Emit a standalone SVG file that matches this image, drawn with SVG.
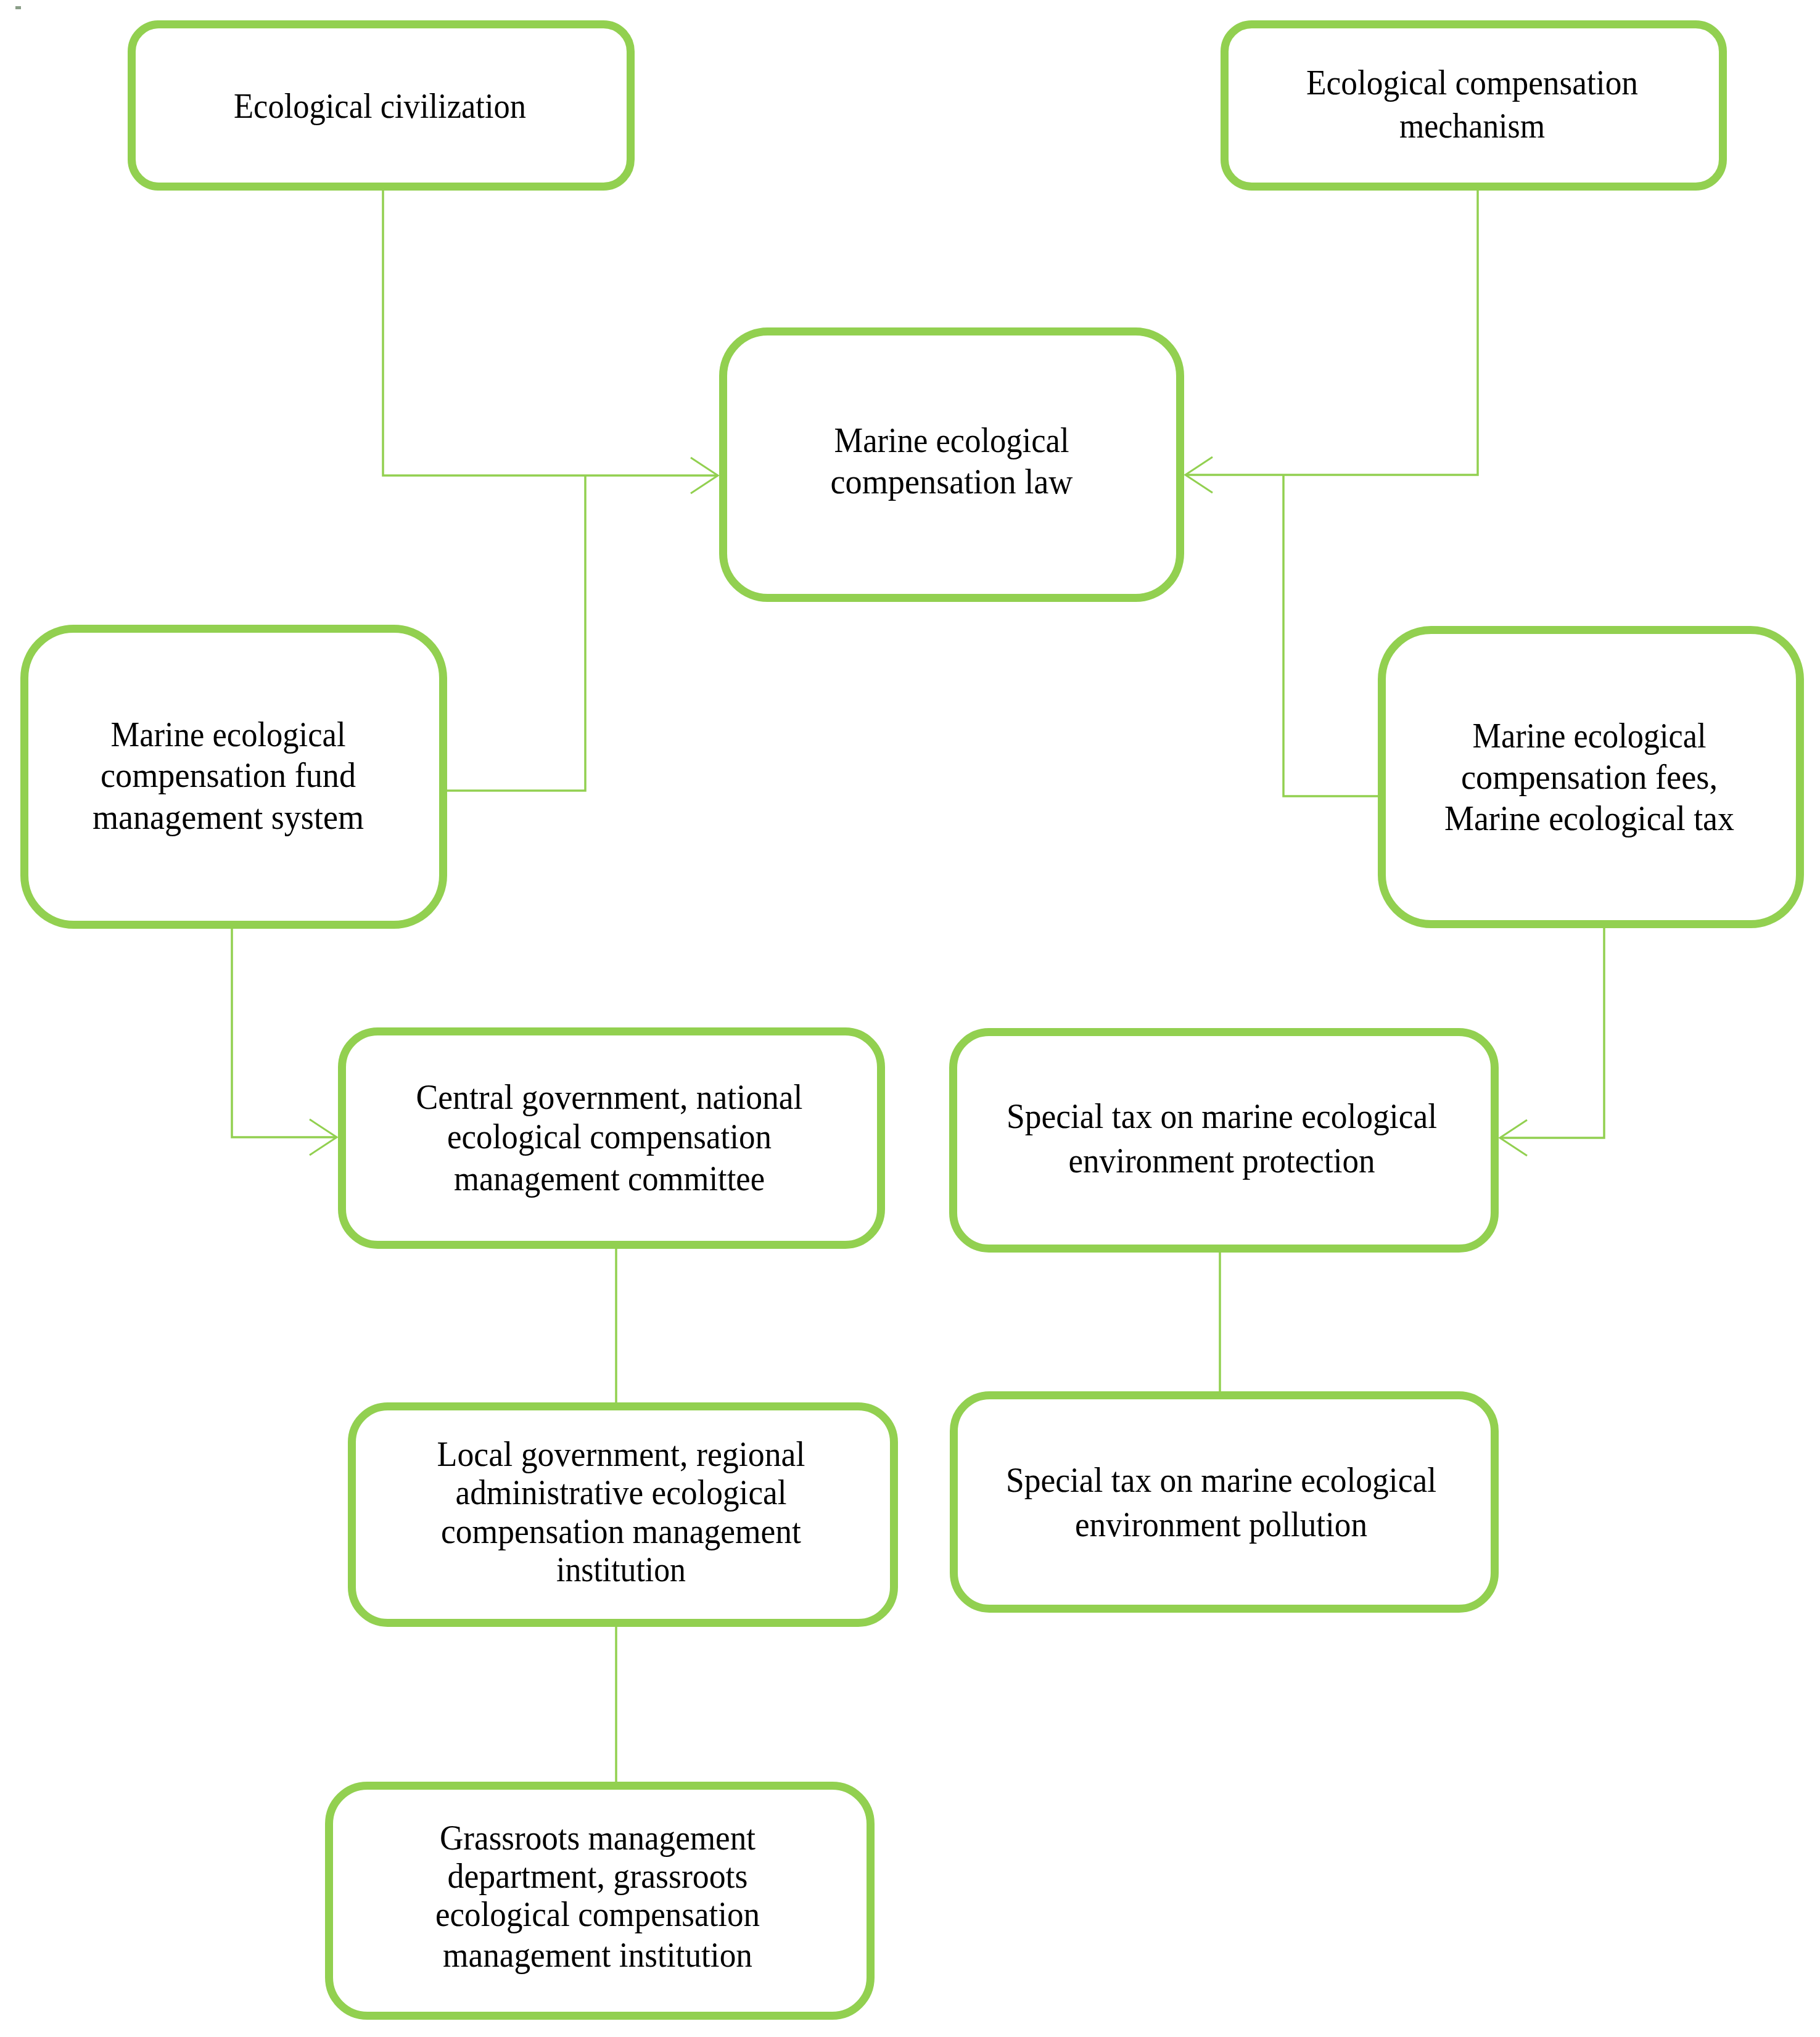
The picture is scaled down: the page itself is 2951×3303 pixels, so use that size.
<svg xmlns="http://www.w3.org/2000/svg" width="2951" height="3303" viewBox="0 0 2951 3303">
<style>
.box{fill:#fff;stroke:#92d050;stroke-width:13}
.con{fill:none;stroke:#92d050;stroke-width:3.5}
.t{font-family:"Liberation Serif","Times New Roman",serif;font-size:56px;fill:#000;text-anchor:middle}
</style>
<defs>
<marker id="arr" markerUnits="userSpaceOnUse" viewBox="0 0 48 62" refX="46" refY="31" markerWidth="48" markerHeight="62" orient="auto">
<path d="M2,2 L46,31 L2,60" fill="none" stroke="#92d050" stroke-width="3"/>
</marker>
</defs>
<rect width="2951" height="3303" fill="#fff"/>
<rect x="25" y="10" width="9" height="5" fill="#8a9e88"/>

<g id="connectors">
<polyline class="con" points="621,309 621,771 1164,771" marker-end="url(#arr)"/>
<polyline class="con" points="725,1282 949,1282 949,771"/>
<polyline class="con" points="2396,309 2396,770 1922,770" marker-end="url(#arr)"/>
<polyline class="con" points="2234,1291 2081,1291 2081,770"/>
<polyline class="con" points="376,1506 376,1844 546,1844" marker-end="url(#arr)"/>
<polyline class="con" points="2601,1505 2601,1845 2432,1845" marker-end="url(#arr)"/>
<line class="con" x1="999" y1="2025" x2="999" y2="2274"/>
<line class="con" x1="999" y1="2638" x2="999" y2="2889"/>
<line class="con" x1="1978" y1="2031" x2="1978" y2="2256"/>
</g>

<g id="eco-civilization">
<rect class="box" x="213.5" y="39.5" width="809" height="263" rx="44"/>
<text class="t" x="616" y="191" textLength="474" lengthAdjust="spacingAndGlyphs">Ecological civilization</text>
</g>

<g id="eco-comp-mechanism">
<rect class="box" x="1985.5" y="39.5" width="808" height="263" rx="44"/>
<text class="t" x="2387" y="153" textLength="538" lengthAdjust="spacingAndGlyphs">Ecological compensation</text>
<text class="t" x="2387" y="223" textLength="236" lengthAdjust="spacingAndGlyphs">mechanism</text>
</g>

<g id="comp-law">
<rect class="box" x="1172.5" y="537.5" width="741" height="432" rx="72"/>
<text class="t" x="1543" y="733" textLength="381" lengthAdjust="spacingAndGlyphs">Marine ecological</text>
<text class="t" x="1543" y="800" textLength="393" lengthAdjust="spacingAndGlyphs">compensation law</text>
</g>

<g id="fund-system">
<rect class="box" x="39.5" y="1019.5" width="679" height="480" rx="80"/>
<text class="t" x="370" y="1210" textLength="381" lengthAdjust="spacingAndGlyphs">Marine ecological</text>
<text class="t" x="370" y="1276" textLength="414" lengthAdjust="spacingAndGlyphs">compensation fund</text>
<text class="t" x="370" y="1344" textLength="440" lengthAdjust="spacingAndGlyphs">management system</text>
</g>

<g id="fees-tax">
<rect class="box" x="2240.5" y="1021.5" width="678" height="477" rx="80"/>
<text class="t" x="2577" y="1212" textLength="379" lengthAdjust="spacingAndGlyphs">Marine ecological</text>
<text class="t" x="2577" y="1279" textLength="416" lengthAdjust="spacingAndGlyphs">compensation fees,</text>
<text class="t" x="2577" y="1346" textLength="470" lengthAdjust="spacingAndGlyphs">Marine ecological tax</text>
</g>

<g id="central-gov">
<rect class="box" x="554.5" y="1672.5" width="874" height="346" rx="58"/>
<text class="t" x="988" y="1798" textLength="627" lengthAdjust="spacingAndGlyphs">Central government, national</text>
<text class="t" x="988" y="1862" textLength="526" lengthAdjust="spacingAndGlyphs">ecological compensation</text>
<text class="t" x="988" y="1930" textLength="504" lengthAdjust="spacingAndGlyphs">management committee</text>
</g>

<g id="tax-protection">
<rect class="box" x="1545.5" y="1673.5" width="878" height="351" rx="58"/>
<text class="t" x="1981" y="1829" textLength="698" lengthAdjust="spacingAndGlyphs">Special tax on marine ecological</text>
<text class="t" x="1981" y="1901" textLength="497" lengthAdjust="spacingAndGlyphs">environment protection</text>
</g>

<g id="local-gov">
<rect class="box" x="570.5" y="2280.5" width="879" height="351" rx="58"/>
<text class="t" x="1007" y="2377" textLength="597" lengthAdjust="spacingAndGlyphs">Local government, regional</text>
<text class="t" x="1007" y="2439" textLength="537" lengthAdjust="spacingAndGlyphs">administrative ecological</text>
<text class="t" x="1007" y="2502" textLength="584" lengthAdjust="spacingAndGlyphs">compensation management</text>
<text class="t" x="1007" y="2564" textLength="210" lengthAdjust="spacingAndGlyphs">institution</text>
</g>

<g id="tax-pollution">
<rect class="box" x="1546.5" y="2262.5" width="877" height="346" rx="58"/>
<text class="t" x="1980" y="2419" textLength="698" lengthAdjust="spacingAndGlyphs">Special tax on marine ecological</text>
<text class="t" x="1980" y="2491" textLength="474" lengthAdjust="spacingAndGlyphs">environment pollution</text>
</g>

<g id="grassroots">
<rect class="box" x="533.5" y="2895.5" width="878" height="373" rx="62"/>
<text class="t" x="969" y="2999" textLength="512" lengthAdjust="spacingAndGlyphs">Grassroots management</text>
<text class="t" x="969" y="3061" textLength="487" lengthAdjust="spacingAndGlyphs">department, grassroots</text>
<text class="t" x="969" y="3123" textLength="526" lengthAdjust="spacingAndGlyphs">ecological compensation</text>
<text class="t" x="969" y="3189" textLength="502" lengthAdjust="spacingAndGlyphs">management institution</text>
</g>
</svg>
